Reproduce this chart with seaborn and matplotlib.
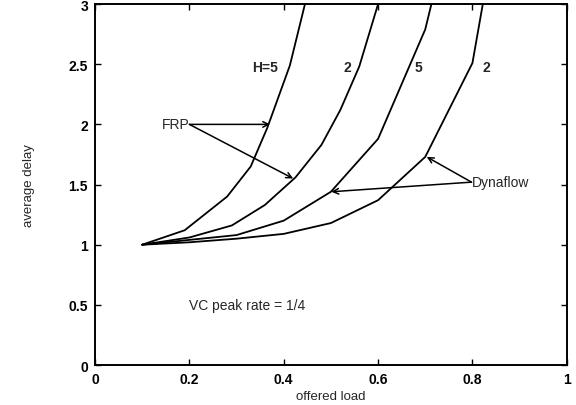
import numpy as np
import pandas as pd
import seaborn as sns
import matplotlib.pyplot as plt

# curves (offered load vs average delay)
frp_h5_x = [0.1, 0.19, 0.28, 0.33, 0.365, 0.413, 0.445]
frp_h5_y = [1.0, 1.12, 1.40, 1.65, 1.97, 2.49, 3.0]
frp_h2_x = [0.1, 0.2, 0.29, 0.36, 0.425, 0.48, 0.52, 0.56, 0.60]
frp_h2_y = [1.0, 1.06, 1.16, 1.33, 1.56, 1.83, 2.12, 2.48, 3.0]
dyn_h5_x = [0.1, 0.2, 0.3, 0.4, 0.5, 0.6, 0.7, 0.713]
dyn_h5_y = [1.0, 1.04, 1.08, 1.20, 1.44, 1.88, 2.79, 3.0]
dyn_h2_x = [0.1, 0.2, 0.3, 0.4, 0.5, 0.6, 0.7, 0.8, 0.822]
dyn_h2_y = [1.0, 1.02, 1.05, 1.09, 1.18, 1.37, 1.73, 2.51, 3.0]

sns.set_style("ticks")
plt.rcParams['font.family'] = ['Liberation Sans', 'DejaVu Sans']

fig = plt.figure(figsize=(5.76, 4.06), dpi=100)
ax = fig.add_axes([0.165, 0.0985, 0.819, 0.889])

for xs, ys in [(frp_h5_x, frp_h5_y), (frp_h2_x, frp_h2_y),
               (dyn_h5_x, dyn_h5_y), (dyn_h2_x, dyn_h2_y)]:
    df = pd.DataFrame({"x": xs, "y": ys})
    sns.lineplot(data=df, x="x", y="y", sort=False, estimator=None,
                 color="black", lw=1.3, ax=ax)

ax.set_xlim(0, 1)
ax.set_ylim(0, 3)
ax.set_xticks([0, 0.2, 0.4, 0.6, 0.8, 1])
ax.set_xticklabels(["0", "0.2", "0.4", "0.6", "0.8", "1"], fontweight="bold")
ax.set_yticks([0, 0.5, 1, 1.5, 2, 2.5, 3])
ax.set_yticklabels(["0", "0.5", "1", "1.5", "2", "2.5", "3"], fontweight="bold")
ax.tick_params(direction="in", length=4, width=1, top=True, right=True,
               labelsize=10, pad=5, colors="black")
for s in ax.spines.values():
    s.set_linewidth(1.4)
    s.set_color("black")

ax.set_xlabel("offered load", fontsize=9.5, labelpad=3)
ax.set_ylabel("average delay", fontsize=9.5, labelpad=24)

# curve labels
lab = dict(fontsize=10, ha="center", va="center", fontweight="bold")
ax.text(0.36, 2.48, "H=5", **lab)
ax.text(0.535, 2.48, "2", **lab)
ax.text(0.686, 2.48, "5", **lab)
ax.text(0.83, 2.48, "2", **lab)

ap = dict(arrowstyle="->", lw=1.1, color="black", shrinkA=0, shrinkB=0)
ax.annotate("", xy=(0.371, 2.0), xytext=(0.2, 2.0), arrowprops=ap)
ax.annotate("", xy=(0.42, 1.55), xytext=(0.2, 2.0), arrowprops=ap)
ax.text(0.2, 2.0, "FRP", fontsize=10, ha="right", va="center")

ax.annotate("", xy=(0.501, 1.44), xytext=(0.798, 1.52), arrowprops=ap)
ax.annotate("", xy=(0.703, 1.73), xytext=(0.798, 1.52), arrowprops=ap)
ax.text(0.798, 1.52, "Dynaflow", fontsize=10, ha="left", va="center")

ax.text(0.2, 0.5, "VC peak rate = 1/4", fontsize=10, ha="left", va="center")

fig.savefig("out.png", dpi=100)
